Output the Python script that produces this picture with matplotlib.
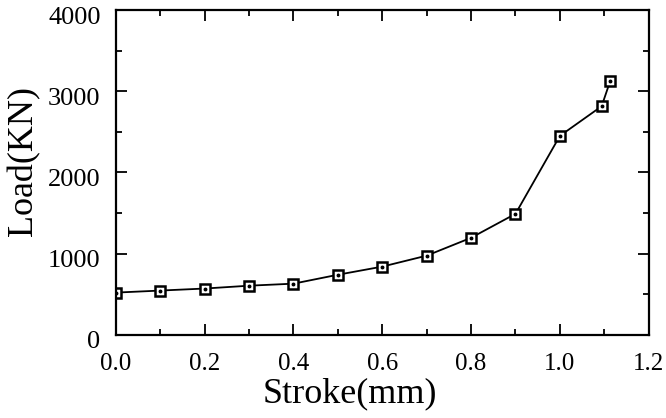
import matplotlib
matplotlib.use("Agg")
import matplotlib.pyplot as plt
from matplotlib.ticker import MultipleLocator
from matplotlib.transforms import ScaledTranslation

# data
stroke = [0.0, 0.1, 0.2, 0.3, 0.4, 0.5, 0.6, 0.7, 0.8, 0.9, 1.0, 1.094, 1.113]
load = [520, 545, 570, 605, 630, 740, 840, 975, 1195, 1490, 2450, 2815, 3120]
xticks = [0.0, 0.2, 0.4, 0.6, 0.8, 1.0, 1.2]
xticklabels = ["0.0", "0.2", "0.4", "0.6", "0.8", "1.0", "1.2"]
yticks = [0, 1000, 2000, 3000, 4000]

plt.rcParams['font.family'] = ['Liberation Serif', 'DejaVu Serif']

fig = plt.figure(figsize=(6.66, 4.18), dpi=100)
ax = fig.add_axes([0.174, 0.199, 0.8, 0.777])

ax.plot(stroke, load, color="black", lw=1.3, marker="s", ms=7,
        mfc="white", mec="black", mew=1.8)
ax.plot(stroke, load, ls="none", marker="o", ms=1.8, color="black")

ax.set_xlim(0, 1.2)
ax.set_ylim(0, 4000)
ax.set_xticks(xticks)
ax.set_xticklabels(xticklabels)
ax.set_yticks(yticks)
ax.xaxis.set_minor_locator(MultipleLocator(0.1))
ax.yaxis.set_minor_locator(MultipleLocator(500))

ax.tick_params(which="both", direction="in", top=True, right=True,
               labelsize=19, width=1.3)
ax.tick_params(axis="x", labelsize=18)
ax.tick_params(which="major", length=8)
ax.tick_params(axis="x", which="major", pad=13)
ax.tick_params(axis="y", which="major", pad=11)
ax.tick_params(which="minor", length=4)
for s in ax.spines.values():
    s.set_linewidth(1.6)

# y labels sit a bit below their ticks in the original
shift = ScaledTranslation(0, -5 / 100, fig.dpi_scale_trans)
for lab in ax.get_yticklabels():
    lab.set_transform(lab.get_transform() + shift)

ax.set_xlabel("Stroke(mm)", fontsize=26)
ax.set_ylabel("Load(KN)", fontsize=26)
ax.xaxis.set_label_coords(0.44, -0.13)
ax.yaxis.set_label_coords(-0.142, 0.535)

fig.savefig("out.png", dpi=100)
